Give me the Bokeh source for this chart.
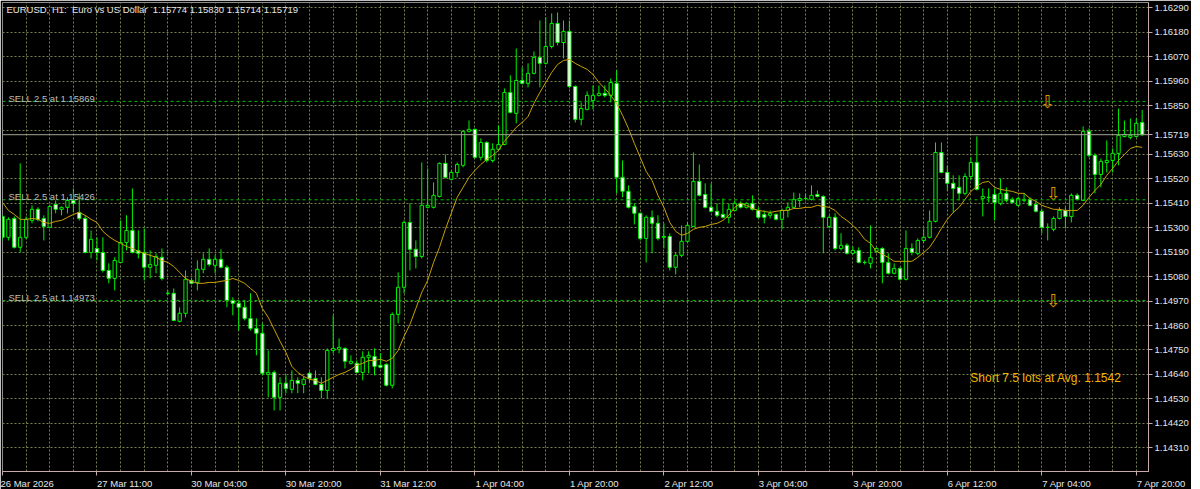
from bokeh.plotting import figure
from bokeh.models import Range1d, FixedTicker, Label, ColumnDataSource, Span, PrintfTickFormatter
from bokeh.embed import file_html
from bokeh.resources import INLINE
from bokeh.core.properties import value

symbol_title = "EURUSD, H1:\u00a0\u00a0Euro vs US Dollar"

opens = [
1.15351, 1.15257, 1.15342, 1.15212, 1.15257, 1.15333, 1.15383, 1.15342, 1.15302, 1.15405,
1.15383, 1.15392, 1.15423, 1.15369, 1.15342, 1.15189, 1.15207, 1.15189, 1.15108, 1.15072,
1.15144, 1.15234, 1.15288, 1.15198, 1.15189, 1.15122, 1.15131, 1.15167, 1.15005, 1.15005,
1.14879, 1.14915, 1.15063, 1.15054, 1.15113, 1.15158, 1.15131, 1.15158, 1.15122, 1.14973,
1.14960, 1.14942, 1.14892, 1.14847, 1.14825, 1.14640, 1.14649, 1.14537, 1.14600, 1.14573,
1.14613, 1.14595, 1.14645, 1.14622, 1.14595, 1.14568, 1.14748, 1.14753, 1.14757, 1.14690,
1.14690, 1.14649, 1.14717, 1.14721, 1.14681, 1.14685, 1.14591, 1.14910, 1.15032, 1.15324,
1.15203, 1.15171, 1.15392, 1.15392, 1.15441, 1.15590, 1.15518, 1.15549, 1.15581, 1.15734,
1.15743, 1.15617, 1.15684, 1.15603, 1.15653, 1.15675, 1.15909, 1.15815, 1.15963, 1.15950,
1.15995, 1.16067, 1.16040, 1.16116, 1.16220, 1.16134, 1.16184, 1.15936, 1.15788, 1.15833,
1.15873, 1.15896, 1.15905, 1.15896, 1.15950, 1.15527, 1.15464, 1.15396, 1.15365, 1.15252,
1.15347, 1.15320, 1.15257, 1.15261, 1.15122, 1.15176, 1.15239, 1.15306, 1.15509, 1.15450,
1.15392, 1.15374, 1.15360, 1.15347, 1.15378, 1.15410, 1.15392, 1.15410, 1.15378, 1.15360,
1.15356, 1.15360, 1.15338, 1.15378, 1.15392, 1.15423, 1.15432, 1.15428, 1.15450, 1.15441,
1.15306, 1.15347, 1.15207, 1.15221, 1.15185, 1.15198, 1.15144, 1.15140, 1.15194, 1.15207,
1.15144, 1.15095, 1.15117, 1.15068, 1.15207, 1.15185, 1.15243, 1.15257, 1.15329, 1.15639,
1.15549, 1.15500, 1.15482, 1.15455, 1.15531, 1.15594, 1.15432, 1.15437, 1.15450, 1.15410,
1.15455, 1.15428, 1.15401, 1.15423, 1.15428, 1.15405, 1.15374, 1.15302, 1.15293, 1.15342,
1.15378, 1.15351, 1.15446, 1.15423, 1.15734, 1.15626, 1.15540, 1.15594, 1.15603, 1.15635,
1.15711, 1.15707, 1.15711, 1.15774]

highs = [
1.15360, 1.15347, 1.15351, 1.15590, 1.15351, 1.15401, 1.15392, 1.15356, 1.15405, 1.15423,
1.15396, 1.15437, 1.15477, 1.15455, 1.15356, 1.15288, 1.15257, 1.15257, 1.15140, 1.15167,
1.15333, 1.15356, 1.15477, 1.15288, 1.15297, 1.15198, 1.15185, 1.15207, 1.15018, 1.15027,
1.14942, 1.15108, 1.15072, 1.15153, 1.15185, 1.15207, 1.15176, 1.15203, 1.15131, 1.14987,
1.14973, 1.14973, 1.15005, 1.14892, 1.14870, 1.14748, 1.14658, 1.14627, 1.14636, 1.14658,
1.14627, 1.14631, 1.14654, 1.14658, 1.14627, 1.14757, 1.14906, 1.14802, 1.14762, 1.14726,
1.14703, 1.14744, 1.14744, 1.14757, 1.14735, 1.14690, 1.14919, 1.15099, 1.15333, 1.15410,
1.15243, 1.15594, 1.15567, 1.15504, 1.15594, 1.15630, 1.15558, 1.15594, 1.15738, 1.15783,
1.15747, 1.15702, 1.15689, 1.15680, 1.15761, 1.15927, 1.15986, 1.16107, 1.16022, 1.16040,
1.16094, 1.16233, 1.16247, 1.16265, 1.16269, 1.16233, 1.16233, 1.15941, 1.15864, 1.15914,
1.15941, 1.15941, 1.15941, 1.15972, 1.16008, 1.15603, 1.15491, 1.15410, 1.15369, 1.15356,
1.15378, 1.15356, 1.15320, 1.15275, 1.15189, 1.15311, 1.15324, 1.15639, 1.15585, 1.15500,
1.15500, 1.15410, 1.15432, 1.15410, 1.15423, 1.15419, 1.15414, 1.15446, 1.15392, 1.15378,
1.15378, 1.15365, 1.15387, 1.15414, 1.15459, 1.15455, 1.15455, 1.15491, 1.15468, 1.15446,
1.15356, 1.15365, 1.15275, 1.15230, 1.15216, 1.15212, 1.15153, 1.15311, 1.15212, 1.15212,
1.15185, 1.15140, 1.15122, 1.15288, 1.15230, 1.15252, 1.15297, 1.15378, 1.15684, 1.15684,
1.15581, 1.15536, 1.15536, 1.15545, 1.15617, 1.15711, 1.15477, 1.15477, 1.15477, 1.15522,
1.15482, 1.15437, 1.15441, 1.15455, 1.15437, 1.15423, 1.15387, 1.15320, 1.15351, 1.15392,
1.15392, 1.15455, 1.15455, 1.15756, 1.15747, 1.15635, 1.15612, 1.15693, 1.15657, 1.15837,
1.15783, 1.15792, 1.15792, 1.15830]

lows = [
1.15243, 1.15243, 1.15207, 1.15189, 1.15248, 1.15320, 1.15329, 1.15243, 1.15297, 1.15365,
1.15356, 1.15365, 1.15369, 1.15333, 1.15185, 1.15162, 1.15153, 1.15099, 1.15050, 1.15018,
1.15144, 1.15198, 1.15185, 1.15162, 1.15063, 1.15072, 1.15095, 1.15063, 1.14996, 1.14879,
1.14874, 1.14897, 1.15045, 1.15018, 1.15095, 1.15126, 1.15095, 1.15117, 1.14942, 1.14906,
1.14838, 1.14883, 1.14838, 1.14726, 1.14636, 1.14537, 1.14478, 1.14478, 1.14555, 1.14555,
1.14555, 1.14555, 1.14604, 1.14591, 1.14532, 1.14532, 1.14735, 1.14735, 1.14667, 1.14685,
1.14645, 1.14613, 1.14645, 1.14636, 1.14667, 1.14586, 1.14577, 1.14870, 1.15005, 1.15108,
1.15117, 1.15162, 1.15387, 1.15387, 1.15437, 1.15522, 1.15513, 1.15527, 1.15572, 1.15729,
1.15612, 1.15603, 1.15594, 1.15594, 1.15648, 1.15671, 1.15815, 1.15770, 1.15945, 1.15932,
1.15990, 1.15932, 1.16035, 1.16107, 1.16121, 1.16062, 1.15927, 1.15774, 1.15761, 1.15828,
1.15833, 1.15891, 1.15887, 1.15864, 1.15455, 1.15437, 1.15387, 1.15315, 1.15243, 1.15144,
1.15185, 1.15243, 1.15207, 1.15108, 1.15090, 1.15167, 1.15234, 1.15306, 1.15441, 1.15387,
1.15369, 1.15347, 1.15342, 1.15320, 1.15374, 1.15387, 1.15387, 1.15378, 1.15342, 1.15320,
1.15342, 1.15333, 1.15293, 1.15347, 1.15387, 1.15392, 1.15423, 1.15423, 1.15437, 1.15185,
1.15297, 1.15198, 1.15198, 1.15180, 1.15180, 1.15140, 1.15135, 1.15117, 1.15189, 1.15050,
1.15090, 1.15090, 1.15063, 1.15063, 1.15176, 1.15176, 1.15234, 1.15252, 1.15324, 1.15545,
1.15468, 1.15369, 1.15423, 1.15446, 1.15513, 1.15468, 1.15351, 1.15414, 1.15333, 1.15401,
1.15414, 1.15410, 1.15396, 1.15414, 1.15396, 1.15369, 1.15275, 1.15243, 1.15284, 1.15338,
1.15297, 1.15324, 1.15423, 1.15423, 1.15617, 1.15455, 1.15482, 1.15549, 1.15549, 1.15581,
1.15707, 1.15698, 1.15707, 1.15714]

closes = [
1.15257, 1.15338, 1.15212, 1.15257, 1.15338, 1.15383, 1.15338, 1.15306, 1.15396, 1.15383,
1.15392, 1.15423, 1.15410, 1.15342, 1.15189, 1.15248, 1.15189, 1.15108, 1.15072, 1.15153,
1.15234, 1.15288, 1.15189, 1.15185, 1.15122, 1.15135, 1.15171, 1.15072, 1.15005, 1.14883,
1.14915, 1.15068, 1.15050, 1.15113, 1.15158, 1.15135, 1.15158, 1.15122, 1.14973, 1.14960,
1.14942, 1.14892, 1.14847, 1.14825, 1.14645, 1.14649, 1.14537, 1.14600, 1.14577, 1.14613,
1.14600, 1.14618, 1.14622, 1.14595, 1.14568, 1.14748, 1.14757, 1.14762, 1.14699, 1.14699,
1.14649, 1.14717, 1.14726, 1.14676, 1.14672, 1.14591, 1.14910, 1.15032, 1.15324, 1.15203,
1.15171, 1.15401, 1.15401, 1.15446, 1.15590, 1.15527, 1.15549, 1.15585, 1.15734, 1.15743,
1.15617, 1.15684, 1.15603, 1.15653, 1.15675, 1.15909, 1.15819, 1.15963, 1.15950, 1.15995,
1.16067, 1.16040, 1.16116, 1.16220, 1.16134, 1.16184, 1.15936, 1.15788, 1.15837, 1.15896,
1.15896, 1.15905, 1.15896, 1.15954, 1.15527, 1.15464, 1.15392, 1.15365, 1.15252, 1.15347,
1.15320, 1.15252, 1.15261, 1.15122, 1.15176, 1.15239, 1.15311, 1.15509, 1.15446, 1.15392,
1.15374, 1.15356, 1.15347, 1.15383, 1.15410, 1.15392, 1.15410, 1.15383, 1.15347, 1.15347,
1.15365, 1.15338, 1.15378, 1.15392, 1.15428, 1.15432, 1.15432, 1.15446, 1.15441, 1.15347,
1.15347, 1.15207, 1.15221, 1.15185, 1.15198, 1.15144, 1.15144, 1.15167, 1.15207, 1.15144,
1.15095, 1.15117, 1.15068, 1.15207, 1.15189, 1.15243, 1.15257, 1.15329, 1.15639, 1.15549,
1.15500, 1.15477, 1.15455, 1.15531, 1.15594, 1.15473, 1.15441, 1.15437, 1.15414, 1.15455,
1.15423, 1.15414, 1.15432, 1.15428, 1.15401, 1.15374, 1.15302, 1.15302, 1.15342, 1.15378,
1.15351, 1.15446, 1.15428, 1.15734, 1.15626, 1.15540, 1.15599, 1.15603, 1.15635, 1.15716,
1.15720, 1.15716, 1.15770, 1.15719]

ma_vals = [
1.15414, 1.15378, 1.15360, 1.15338, 1.15338, 1.15342, 1.15338, 1.15324, 1.15320, 1.15329,
1.15333, 1.15347, 1.15360, 1.15369, 1.15356, 1.15338, 1.15324, 1.15284, 1.15261, 1.15243,
1.15230, 1.15216, 1.15207, 1.15194, 1.15185, 1.15176, 1.15167, 1.15153, 1.15144, 1.15126,
1.15099, 1.15072, 1.15059, 1.15050, 1.15050, 1.15054, 1.15054, 1.15059, 1.15063, 1.15072,
1.15063, 1.15050, 1.15027, 1.15005, 1.14937, 1.14897, 1.14843, 1.14789, 1.14739, 1.14676,
1.14649, 1.14631, 1.14618, 1.14613, 1.14600, 1.14613, 1.14627, 1.14640, 1.14649, 1.14663,
1.14681, 1.14690, 1.14703, 1.14703, 1.14708, 1.14699, 1.14712, 1.14748, 1.14811, 1.14865,
1.14937, 1.15009, 1.15063, 1.15144, 1.15212, 1.15293, 1.15365, 1.15437, 1.15482, 1.15527,
1.15558, 1.15585, 1.15608, 1.15626, 1.15648, 1.15689, 1.15720, 1.15752, 1.15774, 1.15801,
1.15860, 1.15909, 1.15954, 1.15999, 1.16035, 1.16053, 1.16058, 1.16040, 1.16026, 1.16013,
1.15990, 1.15954, 1.15927, 1.15896, 1.15860, 1.15806, 1.15747, 1.15680, 1.15617, 1.15554,
1.15513, 1.15446, 1.15392, 1.15324, 1.15284, 1.15266, 1.15275, 1.15293, 1.15302, 1.15306,
1.15315, 1.15320, 1.15333, 1.15356, 1.15392, 1.15410, 1.15401, 1.15387, 1.15378, 1.15374,
1.15369, 1.15374, 1.15378, 1.15378, 1.15387, 1.15387, 1.15392, 1.15392, 1.15401, 1.15396,
1.15392, 1.15378, 1.15351, 1.15333, 1.15311, 1.15284, 1.15248, 1.15230, 1.15194, 1.15180,
1.15167, 1.15149, 1.15149, 1.15149, 1.15149, 1.15167, 1.15189, 1.15212, 1.15252, 1.15297,
1.15338, 1.15369, 1.15392, 1.15428, 1.15464, 1.15486, 1.15504, 1.15509, 1.15482, 1.15473,
1.15468, 1.15464, 1.15455, 1.15455, 1.15432, 1.15419, 1.15401, 1.15392, 1.15383, 1.15383,
1.15378, 1.15378, 1.15378, 1.15401, 1.15437, 1.15468, 1.15495, 1.15536, 1.15567, 1.15603,
1.15630, 1.15657, 1.15666, 1.15662]

x_tick_labels = ["26 Mar 2026", "27 Mar 11:00", "30 Mar 04:00", "30 Mar 20:00", "31 Mar 12:00",
                 "1 Apr 04:00", "1 Apr 20:00", "2 Apr 12:00", "3 Apr 04:00", "3 Apr 20:00",
                 "6 Apr 12:00", "7 Apr 04:00", "7 Apr 20:00"]
bars_per_label = 16
bars_per_grid = 4

y_ticks = [1.14310, 1.14420, 1.14530, 1.14640, 1.14750, 1.14860, 1.14970, 1.15080, 1.15190,
           1.15300, 1.15410, 1.15520, 1.15630, 1.15740, 1.15850, 1.15960, 1.16070, 1.16180, 1.16290]

sell_prices = [1.15869, 1.15426, 1.14973]
sell_lots = [2.5, 2.5, 2.5]
arrow_bars = [177, 178, 178]
arrow_prices = [1.15869, 1.15455, 1.14973]
position_text = "Short 7.5 lots at Avg. 1.1542"
last_price = closes[-1]

# ---------------------------------------------------------------
n = len(closes)
idx = list(range(n))
FONT = "Liberation Sans"
GREEN = "#00f000"
X0, X1 = 0.0, 194.07
Y0, Y1 = 1.14203, 1.16314

# approximate Arial advance widths (em) used to left-align the time labels on their ticks
_W = {" ": 0.278, ":": 0.278, "M": 0.833, "A": 0.667, "a": 0.556, "r": 0.333, "p": 0.556}
def _left_aligned(t):
    w = sum(_W.get(ch, 0.556) for ch in t)
    return "\u00a0" * int(round(w / 0.278)) + t

src = ColumnDataSource(dict(
    x=idx, o=opens, h=highs, l=lows, c=closes,
    top=[max(a, b) for a, b in zip(opens, closes)],
    bot=[min(a, b) for a, b in zip(opens, closes)],
    fill=["#000000" if c >= o else "#ffffff" for o, c in zip(opens, closes)],
))

p = figure(frame_width=1146, frame_height=469,
           x_range=Range1d(X0, X1), y_range=Range1d(Y0, Y1),
           output_backend="svg", toolbar_location=None,
           background_fill_color="#000000", border_fill_color="#000000",
           min_border_left=2, min_border_right=0, min_border_top=2, min_border_bottom=0,
           y_axis_location="right", outline_line_color="#8c8c8c")

# grid
p.xgrid.ticker = FixedTicker(ticks=list(range(0, n + 1, bars_per_grid)))
p.ygrid.ticker = FixedTicker(ticks=y_ticks)
for g in (p.xgrid, p.ygrid):
    g.grid_line_color = "#76824c"
    g.grid_line_dash = "2 2"
    g.grid_line_width = 1

# axes
x_ticks = [i * bars_per_label for i in range(len(x_tick_labels))]
p.xaxis.ticker = FixedTicker(ticks=x_ticks)
p.xaxis.major_label_overrides = {
    t: (lab if i == 0 else _left_aligned(lab)) for i, (t, lab) in enumerate(zip(x_ticks, x_tick_labels))}
axis_ticks = [t for t in y_ticks if abs(t - last_price) > 0.0003] + [last_price]
p.yaxis.ticker = FixedTicker(ticks=axis_ticks)
p.yaxis.formatter = PrintfTickFormatter(format="%.5f")
for ax in (p.xaxis, p.yaxis):
    ax.axis_line_color = "#c8aaaa"
    ax.major_tick_line_color = "#c8aaaa"
    ax.minor_tick_line_color = None
    ax.major_tick_in = 0
    ax.major_tick_out = 4
    ax.major_label_text_color = "#e6e6e6"
    ax.major_label_text_font = FONT
    ax.major_label_text_font_size = "9.5px"
    ax.major_label_standoff = 2

# sell levels
for sp in sell_prices:
    p.add_layout(Span(location=sp, dimension="width", line_color="#00c000",
                      line_dash="3 3", line_width=1))
for sp, lot in zip(sell_prices, sell_lots):
    p.add_layout(Label(x=X0, y=sp, x_offset=6, y_offset=3, text=f"SELL {lot} at {sp:.5f}",
                       text_color="#bdbdbd", text_font=FONT, text_font_size="9.5px",
                       text_baseline="alphabetic"))

# current price line
p.add_layout(Span(location=last_price, dimension="width", line_color="#a4a494", line_width=1))

# candles
p.segment(x0="x", y0="l", x1="x", y1="h", source=src, line_color=GREEN, line_width=1)
p.vbar(x="x", top="top", bottom="bot", width=0.56, source=src,
       fill_color="fill", line_color=GREEN, line_width=1)

# moving average
p.line(idx, ma_vals, line_color="#c9a208", line_width=1)

# sell arrows
p.text(x=arrow_bars, y=arrow_prices, text=["\u21e9"] * len(arrow_bars),
       text_color="#dc9400", text_font=value("DejaVu Sans"), text_font_size="18px",
       text_align="center", text_baseline="alphabetic")

# texts
p.add_layout(Label(x=X0, y=Y1, x_offset=4, y_offset=-1,
                   text=f"{symbol_title}\u00a0\u00a0{opens[-1]:.5f} {highs[-1]:.5f} {lows[-1]:.5f} {closes[-1]:.5f}",
                   text_color="#e6e6e6", text_font=FONT, text_font_size="9.5px",
                   text_baseline="top"))
p.add_layout(Label(x=163.9, y=1.14626, text=position_text, text_color="#f0b400",
                   text_font=FONT, text_font_size="12px", text_baseline="middle"))

open("out.html", "w").write(file_html(p, INLINE))
